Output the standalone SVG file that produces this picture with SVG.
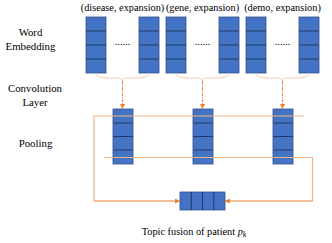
<svg xmlns="http://www.w3.org/2000/svg" width="332" height="243" viewBox="0 0 332 243">
<defs>
<style>
.t{font-family:'Liberation Serif','Times New Roman',serif;font-size:10.3px;fill:#000}
.lb{font-size:10.8px}
.blk{fill:#4472C4;stroke:#2F528F;stroke-width:0.8}
.div{stroke:#203864;stroke-width:1}
.brace{fill:none;stroke:#F8CBAD;stroke-width:1}
.dash{fill:none;stroke:#ED7D31;stroke-width:1;stroke-dasharray:3,1,1,1}
.ln{fill:none;stroke:#F4B183;stroke-width:1.2}
.arr{fill:none;stroke:#ED7D31;stroke-width:1}
</style>
<marker id="ah" viewBox="0 0 10 10" refX="10" refY="5" markerWidth="5" markerHeight="5" orient="auto" markerUnits="userSpaceOnUse"><path d="M0,0 L10,5 L0,10 z" fill="#ED7D31"/></marker>
<g id="vcol"><rect class="blk" x="0" y="0" width="20" height="56"/><line class="div" x1="0" y1="14" x2="20" y2="14"/><line class="div" x1="0" y1="28" x2="20" y2="28"/><line class="div" x1="0" y1="42" x2="20" y2="42"/></g>
<g id="ccol"><rect class="blk" x="0" y="0" width="20" height="55"/><line class="div" x1="0" y1="14" x2="20" y2="14"/><line class="div" x1="0" y1="27.5" x2="20" y2="27.5"/><line class="div" x1="0" y1="41" x2="20" y2="41"/></g>
</defs>
<rect width="332" height="243" fill="#fff"/>
<g id="labels">
<text class="t lb" x="30.5" y="36" text-anchor="middle">Word</text>
<text class="t lb" x="30.5" y="50" text-anchor="middle">Embedding</text>
<text class="t lb" x="35" y="92" text-anchor="middle">Convolution</text>
<text class="t lb" x="35" y="106" text-anchor="middle">Layer</text>
<text class="t lb" x="35.5" y="147" text-anchor="middle">Pooling</text>
</g>
<g id="emb-disease">
<text class="t" x="122.5" y="11" text-anchor="middle">(disease, expansion)</text>
<use href="#vcol" x="86" y="17"/><use href="#vcol" x="139" y="17"/>
<text class="t" x="122.5" y="45" text-anchor="middle">......</text>
</g>
<g id="emb-gene">
<text class="t" x="202.5" y="11" text-anchor="middle">(gene, expansion)</text>
<use href="#vcol" x="166" y="17"/><use href="#vcol" x="219" y="17"/>
<text class="t" x="202.5" y="45" text-anchor="middle">......</text>
</g>
<g id="emb-demo">
<text class="t" x="282.5" y="11" text-anchor="middle">(demo, expansion)</text>
<use href="#vcol" x="246" y="17"/><use href="#vcol" x="299" y="17"/>
<text class="t" x="282.5" y="45" text-anchor="middle">......</text>
</g>
<g id="conv1"><use href="#ccol" x="113" y="109"/></g>
<g id="conv2"><use href="#ccol" x="193" y="109"/></g>
<g id="conv3"><use href="#ccol" x="273" y="109"/></g>
<g id="fusion">
<rect class="blk" x="180" y="192" width="45" height="18"/>
<line class="div" x1="191.3" y1="192" x2="191.3" y2="210"/>
<line class="div" x1="202.5" y1="192" x2="202.5" y2="210"/>
<line class="div" x1="213.8" y1="192" x2="213.8" y2="210"/>
<text class="t" x="194" y="235" font-size="11px" text-anchor="middle">Topic fusion of patient <tspan font-style="italic">p</tspan><tspan font-style="italic" font-size="7.8px" dy="2">k</tspan></text>
</g>
<g id="connectors">
<path class="brace" d="M96,73 Q96,78 109,78 L118,78 Q122.5,78 122.5,81 Q122.5,78 127,78 L136,78 Q149,78 149,73"/>
<path class="brace" d="M176,73 Q176,78 189,78 L198,78 Q202.5,78 202.5,81 Q202.5,78 207,78 L216,78 Q229,78 229,73"/>
<path class="brace" d="M256,73 Q256,78 269,78 L278,78 Q282.5,78 282.5,81 Q282.5,78 287,78 L296,78 Q309,78 309,73"/>
<path class="dash" d="M122.5,81 V109" marker-end="url(#ah)"/>
<path class="dash" d="M202.5,81 V109" marker-end="url(#ah)"/>
<path class="dash" d="M282.5,81 V109" marker-end="url(#ah)"/>
<path class="ln" d="M304,116 H94 V201"/>
<path class="ln" d="M104,157.5 H312.5 V201"/>
<path class="arr" d="M94,201 H180" marker-end="url(#ah)"/>
<path class="arr" d="M312.5,201 H225" marker-end="url(#ah)"/>
</g>
</svg>
